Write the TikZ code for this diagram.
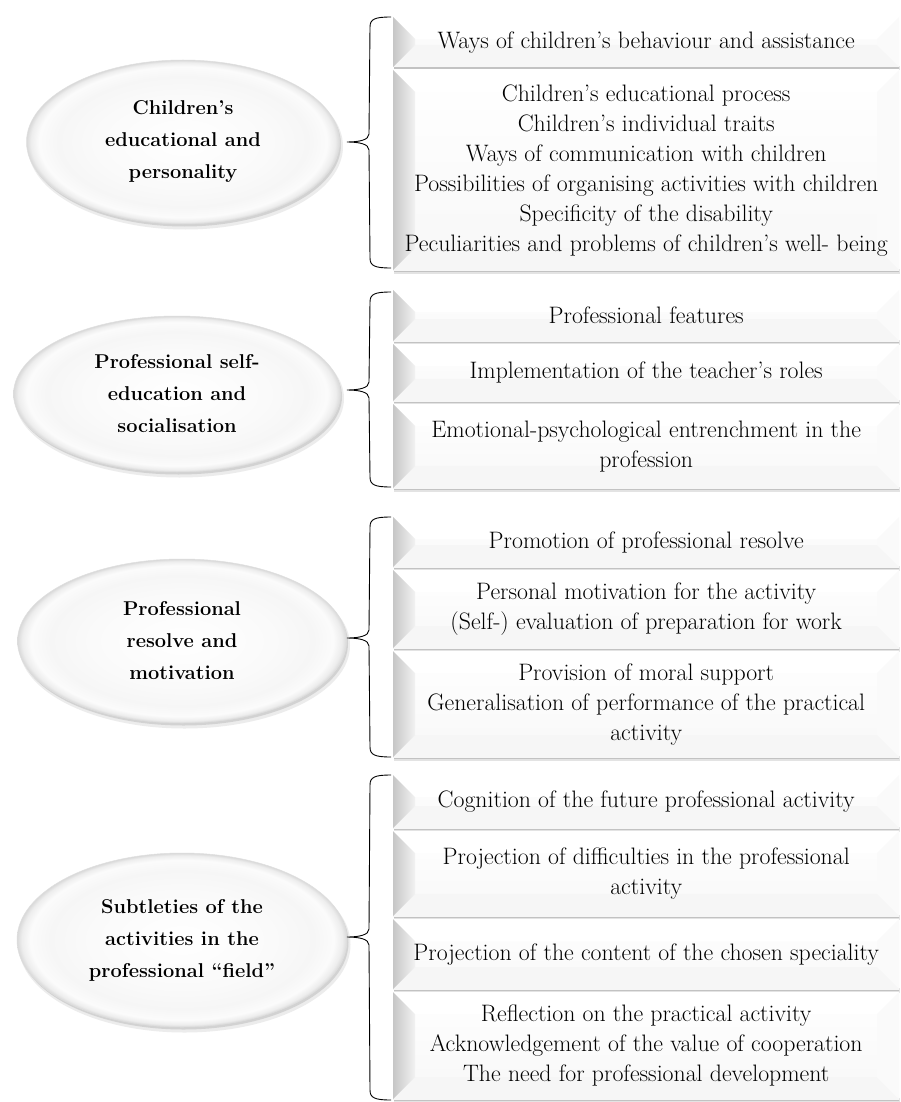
\documentclass[tikz,border=0pt]{standalone}
\usepackage{fontspec}
\usetikzlibrary{shapes.geometric,calc}
\pgfdeclareradialshading{ellshade}{\pgfpoint{0bp}{0bp}}{color(0bp)=(white); color(14bp)=(gray!4); color(20bp)=(gray!7); color(23bp)=(gray!3); color(24.3bp)=(gray!14); color(25bp)=(gray!30); color(50bp)=(gray!30)}
\newcommand\boxfont{\fontsize{23.8}{30}\selectfont}
\newcommand\ellfont{\fontsize{20}{32}\selectfont\bfseries}
\tikzset{
 boxnode/.style={rectangle, inner sep=0pt, minimum width=506pt, align=center, font=\boxfont, anchor=north west},
 ellnode/.style={ellipse, inner sep=0pt, align=center, font=\ellfont, shade, shading=ellshade, draw=gray!25, line width=0.5pt},
 bracestyle/.style={draw=black, line width=0.9pt},
 facetL/.style={left color=gray!45, right color=gray!10},
 facetT/.style={fill=white},
 facetB/.style={fill=gray!7},
 facetR/.style={fill=gray!4},
 boxbody/.style={top color=white, bottom color=gray!6},
 shadowA/.style={fill=gray!22},
 shadowB/.style={fill=gray!48}
}
\newcommand\mybox[4]{%
 \pgfmathsetmacro\bh{#3-#2}%
 \pgfmathsetmacro\bi{min(22,\bh/2)}%
 \fill[shadowA] (394,#3-1) rectangle (900,#3+3.5);
 \fill[shadowB] (394,#3) rectangle (899,#3+2);
 \shade[boxbody] (393,#2) rectangle (899,#3);
 \fill[facetT] (393,#2) -- (899,#2) -- (899-\bi,#2+\bi) -- (393+\bi,#2+\bi) -- cycle;
 \fill[facetB] (393,#3) -- (899,#3) -- (899-\bi,#3-\bi) -- (393+\bi,#3-\bi) -- cycle;
 \fill[facetR] (899,#2) -- (899-\bi,#2+\bi) -- (899-\bi,#3-\bi) -- (899,#3) -- cycle;
 \shade[facetL] (393,#2) -- (393+\bi,#2+\bi) -- (393+\bi,#3-\bi) -- (393,#3) -- cycle;
 \node[boxnode, minimum height=\bh pt] (#1) at (393,#2) {#4};
}
\newcommand\myell[6]{% name, x, y, w, h, text
 \fill[gray!15] (#2+2.5,#3+4.5) ellipse [x radius=#4/2+1, y radius=#5/2+1];
 \fill[gray!35] (#2+1.5,#3+2.5) ellipse [x radius=#4/2, y radius=#5/2];
 \node[ellnode, minimum width=#4pt, minimum height=#5pt] (#1) at (#2,#3) {#6};
}
\newcommand\mybrace[3]{%
 \draw[bracestyle] (#1) .. controls +(-16,0) and +(0,-8) .. ($(#1)+(-21,10)$)
   -- ($(#3)+(22,-8)$) .. controls +(0,6) and +(12,0) .. (#3)
   .. controls +(12,0) and +(0,-6) .. ($(#3)+(22,8)$)
   -- ($(#2)+(-21,-10)$) .. controls +(0,8) and +(-16,0) .. (#2);
}
\begin{document}
\begin{tikzpicture}[x=1pt,y=-1pt]
\fill[white] (0,0) rectangle (901,1102);
\useasboundingbox (0,0) rectangle (901,1102);

% ---- Group 1
\myell{e1}{183}{142}{313}{164}{Children’s\\educational and\\personality}
\mybox{g1a}{17}{67}{Ways of children’s behaviour and assistance}
\mybox{g1b}{70}{270}{Children’s educational process\\Children’s individual traits\\Ways of communication with children\\Possibilities of organising activities with children\\Specificity of the disability\\Peculiarities and problems of children’s well- being}
\coordinate (t1) at (391,17);
\coordinate (b1) at (391,268);
\coordinate (p1) at (347,142);
\mybrace{t1}{b1}{p1}

% ---- Group 2
\myell{e2}{177}{394}{327}{156}{Professional self-\\education and\\socialisation}
\mybox{g2a}{290}{341}{Professional features}
\mybox{g2b}{344}{401}{Implementation of the teacher’s roles}
\mybox{g2c}{404}{488}{Emotional-psychological entrenchment in the\\profession}
\coordinate (t2) at (391,292);
\coordinate (b2) at (391,487);
\coordinate (p2) at (347,390);
\mybrace{t2}{b2}{p2}

% ---- Group 3
\myell{e3}{182}{641}{329}{164}{Professional\\resolve and\\motivation}
\mybox{g3a}{517}{567}{Promotion of professional resolve}
\mybox{g3b}{570}{648}{Personal motivation for the activity\\(Self-) evaluation of preparation for work}
\mybox{g3c}{651}{757}{Provision of moral support\\Generalisation of performance of the practical\\activity}
\coordinate (t3) at (391,517);
\coordinate (b3) at (391,757);
\coordinate (p3) at (347,638);
\mybrace{t3}{b3}{p3}

% ---- Group 4
\myell{e4}{182}{940}{330}{174}{Subtleties of the\\activities in the\\professional “field”}
\mybox{g4a}{775}{828}{Cognition of the future professional activity}
\mybox{g4b}{831}{916}{Projection of difficulties in the professional\\activity}
\mybox{g4c}{919}{989}{Projection of the content of the chosen speciality}
\mybox{g4d}{992}{1099}{Reflection on the practical activity\\Acknowledgement of the value of cooperation\\The need for professional development}
\coordinate (t4) at (391,775);
\coordinate (b4) at (391,1100);
\coordinate (p4) at (347,937);
\mybrace{t4}{b4}{p4}
\end{tikzpicture}
\end{document}
